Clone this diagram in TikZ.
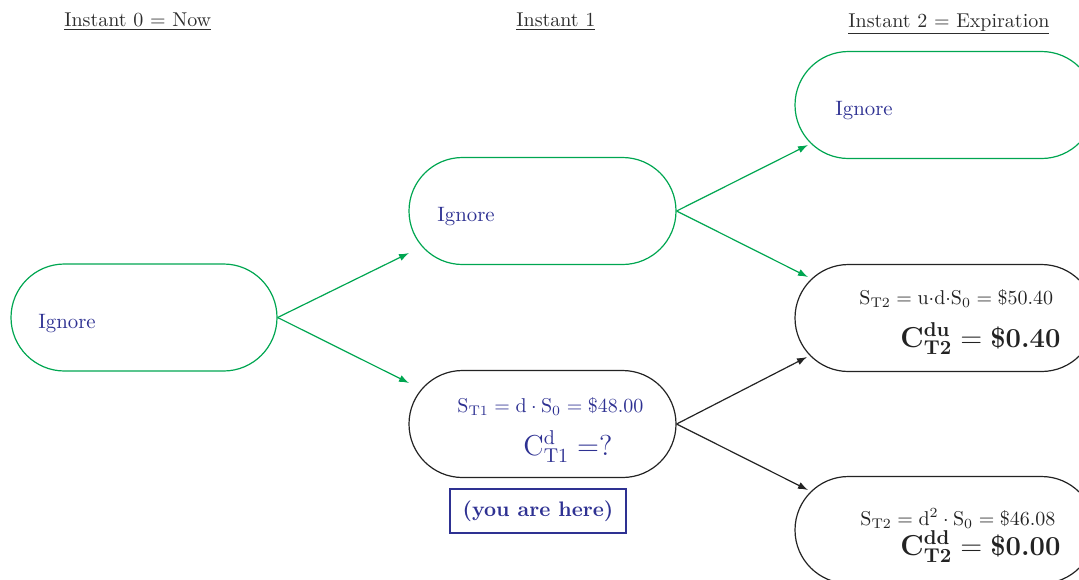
\documentclass[tikz,border=0pt]{standalone}
\usetikzlibrary{arrows.meta}
\definecolor{grn}{RGB}{0,166,81}
\definecolor{ink}{RGB}{46,49,146}
\definecolor{hdr}{RGB}{45,45,45}
\definecolor{edge}{RGB}{35,35,35}
\begin{document}
\begin{tikzpicture}[x=0.5pt,y=-0.5pt,
  state/.style={draw, rounded corners=26.75pt, minimum height=53.5pt, inner sep=0pt, line width=0.6pt},
  gstate/.style={state, draw=grn},
  kstate/.style={state, draw=edge},
  txt/.style={anchor=base west, inner sep=0pt, font=\fontsize{10}{12}\selectfont},
  hdrtxt/.style={txt, text=hdr},
  ign/.style={txt, text=ink, font=\fontsize{10.4}{12.5}\selectfont},
  eqtxt/.style={txt, font=\fontsize{10.3}{12.4}\selectfont},
  bigtxt/.style={txt, font=\fontsize{14.3}{17}\selectfont},
  boldtxt/.style={txt, font=\fontsize{13.7}{16.4}\selectfont},
  garrow/.style={draw=grn, line width=0.6pt, -{Latex[length=5pt,width=3.6pt]}},
  karrow/.style={draw=edge, line width=0.6pt, -{Latex[length=5pt,width=3.6pt]}}]
\useasboundingbox (0,0) rectangle (1079,579);
% headers
\node[hdrtxt] (h0) at (64,26) {\underline{Instant 0 $=$ Now}};
\node[hdrtxt] (h1) at (516,26) {\underline{Instant 1}};
\node[hdrtxt] (h2) at (848,27) {\underline{Instant 2 $=$ Expiration}};
% states
\node[gstate, minimum width=133pt] (A) at (144,317.5) {};
\node[gstate, minimum width=133.5pt] (B) at (542.5,211) {};
\node[kstate, minimum width=133.5pt] (C) at (542.5,424) {};
\node[gstate, minimum width=150pt] (D) at (945,105) {};
\node[kstate, minimum width=150pt] (E) at (945,318) {};
\node[kstate, minimum width=150pt] (F) at (945,530) {};
% texts
\node[ign] (tA) at (38,328) {Ignore};
\node[ign] (tB) at (437,221) {Ignore};
\node[ign] (tD) at (835,115) {Ignore};
\node[txt, text=ink] (tC1) at (457,412) {$\mathrm{S}_{\mathrm{T1}} = \mathrm{d}\cdot\mathrm{S}_0 = \$48.00$};
\node[bigtxt, text=ink] (tC2) at (523,455) {$\mathrm{C}^{\mathrm{d}}_{\mathrm{T1}} =?$};
\node[draw=ink, text=ink, line width=0.6pt, minimum width=88pt, minimum height=22pt, inner sep=0pt, font=\fontsize{10.5}{12.6}\selectfont\bfseries] (here) at (538,511) {(you are here)};
\node[eqtxt, text=edge] (tE1) at (859,304) {$\mathrm{S}_{\mathrm{T2}} = \mathrm{u}{\cdot}\mathrm{d}{\cdot}\mathrm{S}_0 = \$50.40$};
\node[boldtxt, text=edge] (tE2) at (900,347) {$\mathbf{C}^{\mathbf{du}}_{\mathbf{T2}} \mathrel{\mathbf{=}} \mbox{\bfseries\$0.40}$};
\node[eqtxt, text=edge] (tF1) at (860,525) {$\mathrm{S}_{\mathrm{T2}} = \mathrm{d}^2\cdot\mathrm{S}_0 = \$46.08$};
\node[boldtxt, text=edge] (tF2) at (900,555) {$\mathbf{C}^{\mathbf{dd}}_{\mathbf{T2}} \mathrel{\mathbf{=}} \mbox{\bfseries\$0.00}$};
% arrow ends
\coordinate (eAB) at (409,253);
\coordinate (eAC) at (409,383);
\coordinate (eBD) at (808,145);
\coordinate (eBE) at (808,277);
\coordinate (eCE) at (807,357);
\coordinate (eCF) at (808,490);
\draw[garrow] (A.east) -- (eAB);
\draw[garrow] (A.east) -- (eAC);
\draw[garrow] (B.east) -- (eBD);
\draw[garrow] (B.east) -- (eBE);
\draw[karrow] (C.east) -- (eCE);
\draw[karrow] (C.east) -- (eCF);
\end{tikzpicture}
\end{document}
